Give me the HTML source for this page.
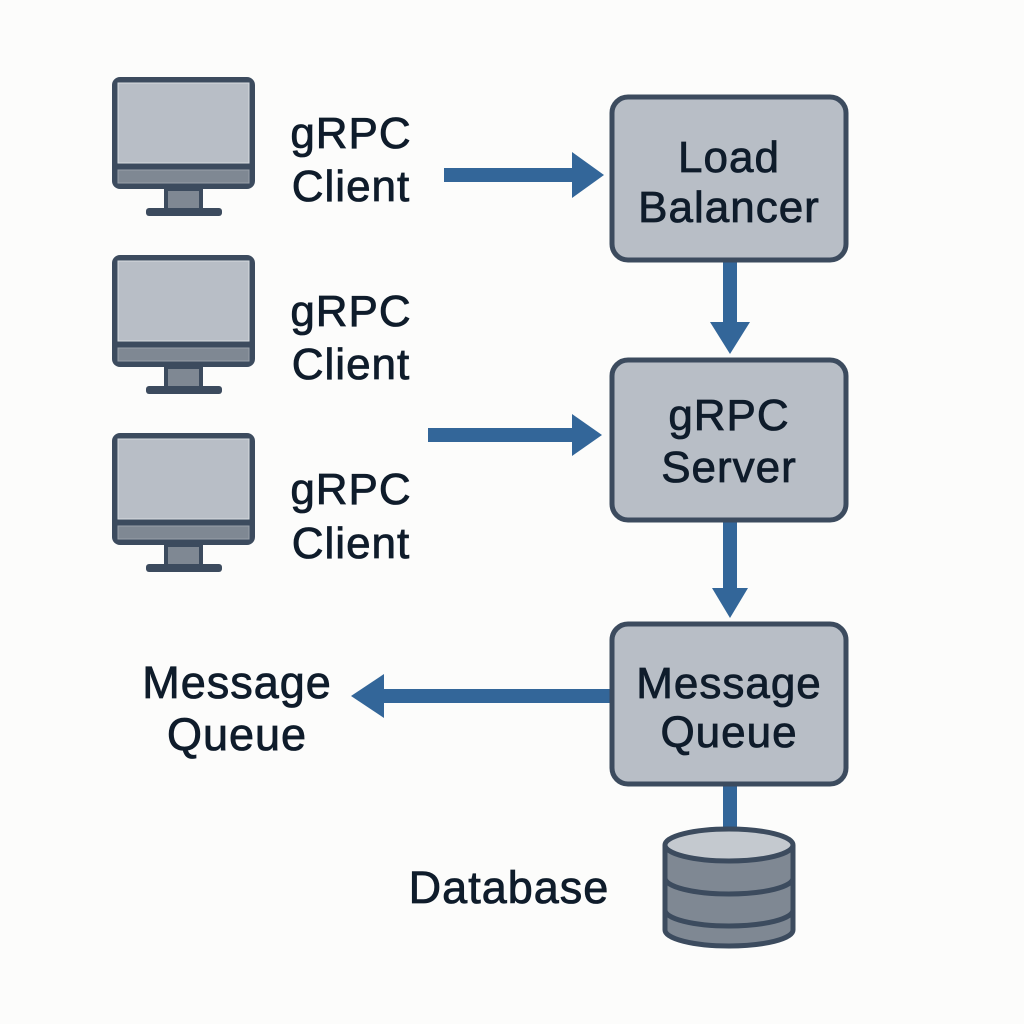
<!DOCTYPE html>
<html><head><meta charset="utf-8"><style>
html,body{margin:0;padding:0;background:#fcfcfb}
svg{display:block}
text{font-family:"Liberation Sans",sans-serif;fill:#0f1c2b;stroke:#0f1c2b;stroke-width:0.8;text-anchor:middle;letter-spacing:1px}
</style></head><body>
<svg width="1024" height="1024" viewBox="0 0 1024 1024">
<defs>
<g id="mon">
  <rect x="112" y="77" width="143" height="112" rx="8" fill="#3c4b5e"/>
  <rect x="118" y="83" width="131" height="80" fill="#b8bec6" stroke="#d8dce0" stroke-width="1"/>
  <rect x="118" y="170" width="131" height="13" fill="#7f8893" stroke="#9aa1aa" stroke-width="1"/>
  <rect x="166" y="189" width="35" height="21" fill="#7f8893" stroke="#3c4b5e" stroke-width="4"/>
  <rect x="146" y="208" width="76" height="8" rx="3" fill="#3c4b5e"/>
</g>
</defs>
<use href="#mon"/>
<use href="#mon" y="178"/>
<use href="#mon" y="356"/>
<g font-size="44">
<text x="351" y="148">gRPC</text><text x="351" y="201">Client</text>
<text x="351" y="326">gRPC</text><text x="351" y="379">Client</text>
<text x="351" y="504">gRPC</text><text x="351" y="558">Client</text>
<text x="237" y="698" font-size="45">Message</text><text x="237" y="750" font-size="45">Queue</text>
<text x="509" y="903" font-size="45">Database</text>
</g>
<g fill="#336699">
  <rect x="444" y="168" width="136" height="14"/><polygon points="572,152 604,175 572,198"/>
  <rect x="428" y="428" width="146" height="14"/><polygon points="572,414 602,435 572,456"/>
  <rect x="384" y="689" width="228" height="14"/><polygon points="384,674 351,696 384,718"/>
  <rect x="723" y="260" width="14" height="66"/><polygon points="710,322 750,322 730,354"/>
  <rect x="723" y="518" width="14" height="72"/><polygon points="712,588 748,588 730,618"/>
  <rect x="723" y="782" width="14" height="52"/>
</g>
<g fill="#b8bec6" stroke="#3c4b5e" stroke-width="5">
  <rect x="612" y="97" width="234" height="163" rx="16"/>
  <rect x="612" y="360" width="234" height="160" rx="16"/>
  <rect x="612" y="624" width="234" height="160" rx="16"/>
</g>
<g font-size="44">
<text x="729" y="172">Load</text><text x="729" y="222">Balancer</text>
<text x="729" y="430">gRPC</text><text x="729" y="482">Server</text>
<text x="729" y="698">Message</text><text x="729" y="747">Queue</text>
</g>
<g stroke="#3c4b5e" stroke-width="5">
  <path d="M665 845 V930 A64 16 0 0 0 793 930 V845" fill="#7f8893"/>
  <path d="M665 878 A64 16 0 0 0 793 878 M665 910 A64 16 0 0 0 793 910" fill="none"/>
  <ellipse cx="729" cy="845" rx="64" ry="16" fill="#c4c9cf"/>
</g>
</svg>
</body></html>
